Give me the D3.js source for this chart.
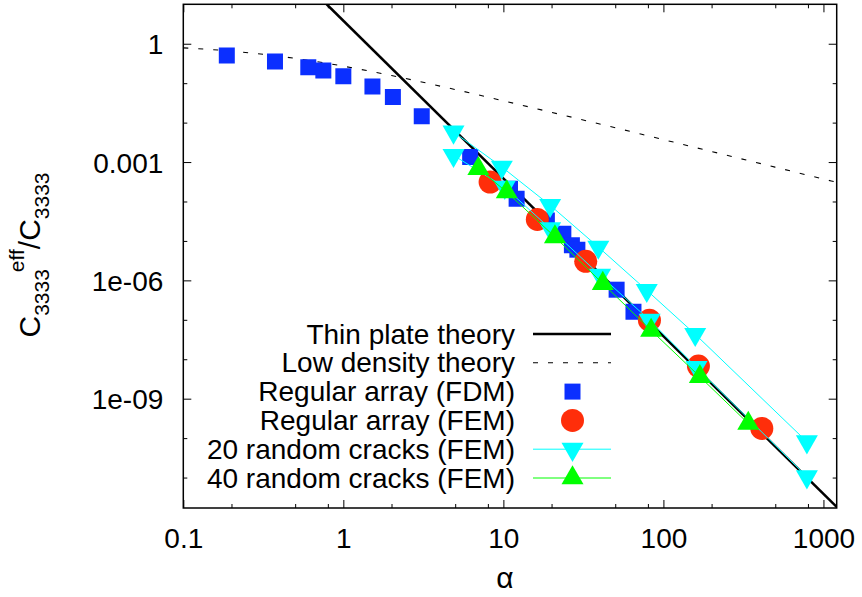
<!DOCTYPE html>
<html>
<head>
<meta charset="utf-8">
<script src="https://cdn.jsdelivr.net/npm/d3@7"></script>
<style>
  body { margin: 0; background: #fff; }
  svg { display: block; }
  text { font-family: "Liberation Sans", Arial, Helvetica, sans-serif; fill: #000; }
</style>
</head>
<body>
<svg id="chart" width="862" height="597"></svg>
<script>
// Axis ticks
const xMajor = [0.1, 1, 10, 100, 1000];
const xTickLabels = ["0.1", "1", "10", "100", "1000"];
const xMinor = [0.2, 0.5, 0.8, 2, 5, 8, 20, 50, 80, 200, 500, 800];
const yMajor = [1, 1e-3, 1e-6, 1e-9];
const yTickLabels = ["1", "0.001", "1e-06", "1e-09"];
const yMinor = [0.1, 0.01, 1e-4, 1e-5, 1e-7, 1e-8, 1e-10, 1e-11];

// Thin plate theory (power law, straight in log-log)
const thinAlpha = [0.787, 1210];
const thinC = [10, 1.8e-12];

// Low density theory
const lowAlpha = [0.1, 0.2, 0.5, 1, 2, 5, 10, 20, 50, 100, 200, 500, 1210];
const lowC = [0.787, 0.649, 0.426, 0.270, 0.156, 0.069, 0.0357, 0.0182, 0.0074, 0.0037, 0.00185, 0.00074, 0.000306];

// Regular array (FDM)
const fdmAlpha = [0.187, 0.374, 0.604, 0.75, 1.0, 1.52, 2.04, 3.09, 6.2, 11.0, 12.1, 18.7, 23.7, 26.8, 29.0, 51, 65];
const fdmC = [0.506, 0.356, 0.255, 0.211, 0.149, 0.0828, 0.0444, 0.0144, 1.34e-3, 2.1e-4, 1.18e-4, 3.3e-5, 1.53e-5, 7.8e-6, 6.0e-6, 5.8e-7, 1.6e-7];

// Regular array (FEM)
const femAlpha = [8.26, 16.3, 32.7, 81.8, 165.5, 412];
const femC = [3.1e-4, 3.5e-5, 3.05e-6, 9.8e-8, 6.7e-9, 1.76e-10];

// 20 random cracks (FEM): upper and lower runs
const r20UpperAlpha = [4.88, 9.78, 19.6, 39.2, 78.7, 158, 788];
const r20UpperC = [5.8e-3, 7.5e-4, 8.0e-5, 7.0e-6, 5.6e-7, 4.3e-8, 8.1e-11];
const r20LowerAlpha = [4.88, 10.2, 19.6, 40.2, 82, 161, 788];
const r20LowerC = [1.48e-3, 2.3e-4, 2.05e-5, 1.35e-6, 9.8e-8, 6.2e-9, 1.05e-11];

// 40 random cracks (FEM)
const r40Alpha = [6.98, 10.5, 21.0, 41.8, 83.8, 169, 339];
const r40C = [6.8e-4, 1.74e-4, 1.26e-5, 8.3e-7, 5.4e-8, 3.6e-9, 2.35e-10];

const legendLabels = ["Thin plate theory", "Low density theory", "Regular array (FDM)",
  "Regular array (FEM)", "20 random cracks (FEM)", "40 random cracks (FEM)"];

const colors = { fdm: "#0b2fff", fem: "#ff2e0a", r20: "#00ffff", r40: "#00ff00" };

const plot = { left: 183.3, right: 836.7, top: 4.3, bottom: 508 };

const x = d3.scaleLog().domain([0.1, 1210]).range([plot.left, plot.right]);
const y = d3.scaleLog().domain([1.69e-12, 10]).range([plot.bottom, plot.top]);

const svg = d3.select("#chart");

svg.append("defs").append("clipPath").attr("id", "plotClip")
  .append("rect")
  .attr("x", plot.left).attr("y", plot.top)
  .attr("width", plot.right - plot.left).attr("height", plot.bottom - plot.top);

const zip = (a, b) => a.map((v, i) => [v, b[i]]);

// ---- axes (ticks point inward on all four sides) ----
const fontSize = 28;
const majorLen = 8, minorLen = 4;

function styleAxis(g) {
  g.select(".domain").remove();
  g.selectAll(".tick line").attr("stroke", "#000").attr("stroke-width", 1);
}

// bottom
svg.append("g").attr("transform", `translate(0,${plot.bottom})`)
  .call(d3.axisBottom(x).tickValues(xMajor).tickSize(-majorLen).tickPadding(0)
    .tickFormat((d, i) => xTickLabels[i]))
  .call(styleAxis)
  .call(g => g.selectAll("text").attr("font-size", fontSize)
    .attr("dy", null).attr("y", 40).attr("font-family", "'Liberation Sans', Arial, sans-serif"));
svg.append("g").attr("transform", `translate(0,${plot.bottom})`)
  .call(d3.axisBottom(x).tickValues(xMinor).tickSize(-minorLen).tickFormat(""))
  .call(styleAxis);
// top
svg.append("g").attr("transform", `translate(0,${plot.top})`)
  .call(d3.axisTop(x).tickValues(xMajor).tickSize(-majorLen).tickFormat(""))
  .call(styleAxis);
svg.append("g").attr("transform", `translate(0,${plot.top})`)
  .call(d3.axisTop(x).tickValues(xMinor).tickSize(-minorLen).tickFormat(""))
  .call(styleAxis);
// left
svg.append("g").attr("transform", `translate(${plot.left},0)`)
  .call(d3.axisLeft(y).tickValues(yMajor).tickSize(-majorLen).tickPadding(20)
    .tickFormat((d, i) => yTickLabels[i]))
  .call(styleAxis)
  .call(g => g.selectAll("text").attr("font-size", fontSize)
    .attr("dy", null).attr("x", -20).attr("y", 10).attr("font-family", "'Liberation Sans', Arial, sans-serif"));
svg.append("g").attr("transform", `translate(${plot.left},0)`)
  .call(d3.axisLeft(y).tickValues(yMinor).tickSize(-minorLen).tickFormat(""))
  .call(styleAxis);
// right
svg.append("g").attr("transform", `translate(${plot.right},0)`)
  .call(d3.axisRight(y).tickValues(yMajor).tickSize(-majorLen).tickFormat(""))
  .call(styleAxis);
svg.append("g").attr("transform", `translate(${plot.right},0)`)
  .call(d3.axisRight(y).tickValues(yMinor).tickSize(-minorLen).tickFormat(""))
  .call(styleAxis);

// ---- data layer ----
const layer = svg.append("g").attr("clip-path", "url(#plotClip)");
const line = d3.line().x(d => x(d[0])).y(d => y(d[1]));

// theory curves
layer.append("path").datum(zip(thinAlpha, thinC))
  .attr("d", line).attr("fill", "none").attr("stroke", "#000").attr("stroke-width", 2.6);
layer.append("path").datum(zip(lowAlpha, lowC))
  .attr("d", d3.line().curve(d3.curveMonotoneX).x(d => x(d[0])).y(d => y(d[1])))
  .attr("fill", "none").attr("stroke", "#000").attr("stroke-width", 1.1)
  .attr("stroke-dasharray", "5,10");

const sq = d3.symbol().type(d3.symbolSquare).size(256)();
const circ = d3.symbol().type(d3.symbolCircle).size(Math.PI * 11.5 * 11.5)();
const tri = d3.symbol().type(d3.symbolTriangle).size(Math.sqrt(3) / 4 * 22 * 22)();

function markers(data, path, color, rot) {
  layer.append("g").selectAll("path").data(data).join("path")
    .attr("d", path)
    .attr("transform", d => `translate(${x(d[0])},${y(d[1])})${rot ? " rotate(180)" : ""}`)
    .attr("fill", color);
}

markers(zip(fdmAlpha, fdmC), sq, colors.fdm, false);
markers(zip(femAlpha, femC), circ, colors.fem, false);

[zip(r20UpperAlpha, r20UpperC), zip(r20LowerAlpha, r20LowerC)].forEach(run => {
  layer.append("path").datum(run).attr("d", line)
    .attr("fill", "none").attr("stroke", colors.r20).attr("stroke-width", 1);
});
markers(zip(r20UpperAlpha, r20UpperC), tri, colors.r20, true);
markers(zip(r20LowerAlpha, r20LowerC), tri, colors.r20, true);

layer.append("path").datum(zip(r40Alpha, r40C)).attr("d", line)
  .attr("fill", "none").attr("stroke", colors.r40).attr("stroke-width", 1);
markers(zip(r40Alpha, r40C), tri, colors.r40, false);

// ---- legend ----
const leg = svg.append("g");
const legTextX = 515, legLineX0 = 533, legLineX1 = 611, legMarkX = 572.5;
const legY0 = 334, legStep = 28.8;
const ly = i => legY0 + i * legStep;
legendLabels.forEach((lab, i) => {
  leg.append("text").attr("x", legTextX).attr("y", ly(i) + 9.5)
    .attr("text-anchor", "end").attr("font-size", fontSize).text(lab);
});
leg.append("line").attr("x1", legLineX0).attr("x2", legLineX1).attr("y1", ly(0)).attr("y2", ly(0))
  .attr("stroke", "#000").attr("stroke-width", 2.6);
leg.append("line").attr("x1", legLineX0).attr("x2", legLineX1).attr("y1", ly(1)).attr("y2", ly(1))
  .attr("stroke", "#000").attr("stroke-width", 1.1).attr("stroke-dasharray", "5,10");
leg.append("path").attr("d", sq).attr("transform", `translate(${legMarkX},${ly(2)})`).attr("fill", colors.fdm);
leg.append("path").attr("d", circ).attr("transform", `translate(${legMarkX},${ly(3)})`).attr("fill", colors.fem);
leg.append("line").attr("x1", legLineX0).attr("x2", legLineX1).attr("y1", ly(4)).attr("y2", ly(4))
  .attr("stroke", colors.r20).attr("stroke-width", 1);
leg.append("path").attr("d", tri).attr("transform", `translate(${legMarkX},${ly(4)}) rotate(180)`).attr("fill", colors.r20);
leg.append("line").attr("x1", legLineX0).attr("x2", legLineX1).attr("y1", ly(5)).attr("y2", ly(5))
  .attr("stroke", colors.r40).attr("stroke-width", 1);
leg.append("path").attr("d", tri).attr("transform", `translate(${legMarkX},${ly(5)})`).attr("fill", colors.r40);

// ---- frame ----
svg.append("rect").attr("x", plot.left).attr("y", plot.top)
  .attr("width", plot.right - plot.left).attr("height", plot.bottom - plot.top)
  .attr("fill", "none").attr("stroke", "#000").attr("stroke-width", 1.5);

// ---- axis titles ----
svg.append("text").attr("x", (plot.left + plot.right) / 2 - 5).attr("y", 588)
  .attr("text-anchor", "middle").attr("font-size", 30)
  .attr("font-family", "'DejaVu Serif', 'Liberation Serif', serif").text("α");

const yt = svg.append("text").attr("transform", "translate(40,255) rotate(-90)")
  .attr("text-anchor", "middle").attr("font-size", 30);
yt.append("tspan").text("C");
yt.append("tspan").attr("font-size", 21).attr("dy", 9).text("3333");
yt.append("tspan").attr("font-size", 21).attr("dy", -25).attr("dx", -3).text("eff");
yt.append("tspan").attr("dy", 16).text("/C");
yt.append("tspan").attr("font-size", 21).attr("dy", 9).text("3333");
</script>
</body>
</html>
